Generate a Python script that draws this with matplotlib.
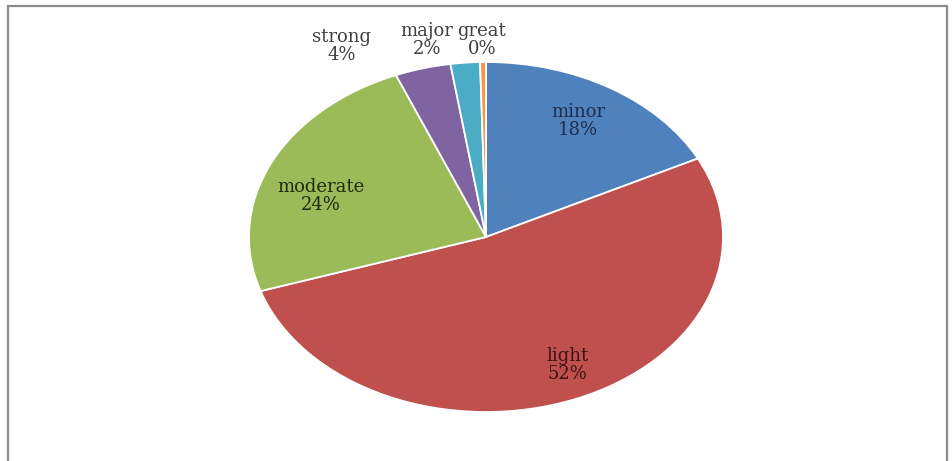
import matplotlib.pyplot as plt
from matplotlib.patches import Rectangle

# slice data, clockwise from 12 o'clock
labels = ['minor', 'light', 'moderate', 'strong', 'major', 'great']
values = [17.6, 52.4, 23.8, 3.8, 2.0, 0.4]
colors = ['#4F81BD', '#C0504D', '#9BBB59', '#8064A2', '#4BACC6', '#F79646']

# where excel put each data label (pie units, radius 1)
label_pos = [(0.388, 0.663), (0.342, -0.731), (-0.696, 0.234),
             (-0.608, 1.091), (-0.249, 1.126), (-0.017, 1.126)]
label_colors = ['#1f2d4d', '#3b1414', '#1e2a10', '#404040', '#404040', '#404040']

fig = plt.figure(figsize=(9.52, 4.61), dpi=100)

# chart border
fig.patches.append(Rectangle((8 / 952, -0.05), 939 / 952, 1.05 - 6 / 461,
                             transform=fig.transFigure, fill=False,
                             edgecolor='#8c8c8c', linewidth=1.6))

ax = fig.add_axes([249 / 952, 49 / 461, 474 / 952, 350 / 461])
ax.pie(values, colors=colors, startangle=90, counterclock=False,
       wedgeprops={'edgecolor': 'white', 'linewidth': 1.3})
ax.set_aspect('auto')
ax.set_xlim(-1, 1)
ax.set_ylim(-1, 1)
ax.axis('off')

total = sum(values)
for name, v, (x, y), c in zip(labels, values, label_pos, label_colors):
    ax.text(x, y, '{}\n{:.0f}%'.format(name, 100 * v / total),
            ha='center', va='center', fontsize=13, family='DejaVu Serif',
            color=c, linespacing=1.05, clip_on=False)

fig.savefig('out.png', dpi=100)
